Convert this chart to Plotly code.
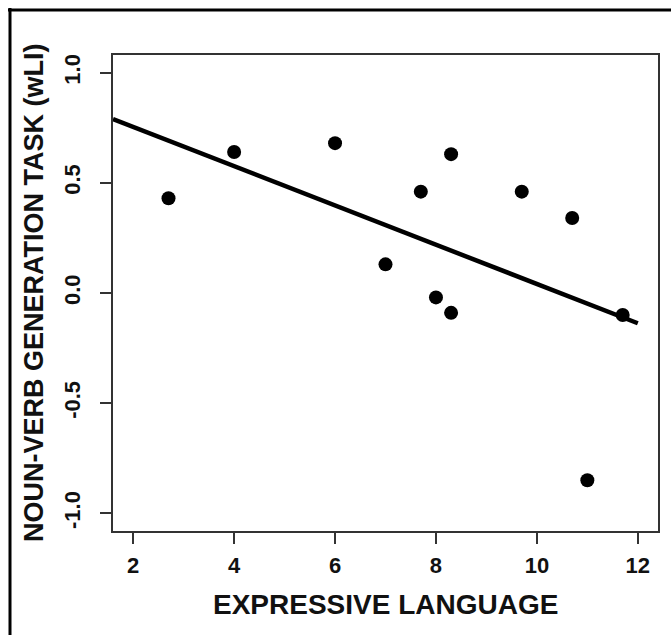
import numpy as np
import plotly.graph_objects as go

# Data
expressive_language = [2.7, 4.0, 6.0, 7.0, 7.7, 8.0, 8.3, 8.3, 9.7, 10.7, 11.0, 11.7]
noun_verb_wli = [0.43, 0.64, 0.68, 0.13, 0.46, -0.02, 0.63, -0.09, 0.46, 0.34, -0.85, -0.10]
fit_x_span = [1.6, 12.0]
x_ticks = [2, 4, 6, 8, 10, 12]
y_ticks = [-1.0, -0.5, 0.0, 0.5, 1.0]
y_tick_text = ["-1.0", "-0.5", "0.0", "0.5", "1.0"]

slope, intercept = np.polyfit(expressive_language, noun_verb_wli, 1)
fit_y = [slope * v + intercept for v in fit_x_span]

W, H = 671, 635
L, R, T, B = 113, 658, 55, 531
pw, ph = R - L, B - T

def px(xp):
    return (xp - L) / pw

def py(yp):
    return (B - yp) / ph

FONT = "Liberation Sans"

fig = go.Figure()
fig.add_trace(go.Scatter(x=fit_x_span, y=fit_y, mode="lines",
                         line=dict(color="black", width=4.5), hoverinfo="skip"))
fig.add_trace(go.Scatter(x=expressive_language, y=noun_verb_wli, mode="markers",
                         marker=dict(color="black", size=14, line=dict(width=0))))

axis_common = dict(showgrid=False, zeroline=False, showline=True, mirror=True,
                   linecolor="#333333", linewidth=1.5, ticks="outside", ticklen=11,
                   tickwidth=1.5, tickcolor="#333333")

fig.update_xaxes(range=[1.6, 12.4], tickmode="array", tickvals=x_ticks,
                 ticktext=[str(v) for v in x_ticks], ticklabelstandoff=3,
                 tickfont=dict(family=FONT, size=22, color="#111111", weight="bold"),
                 **axis_common)
fig.update_yaxes(range=[-1.08, 1.08], tickmode="array", tickvals=y_ticks,
                 ticktext=y_tick_text, tickangle=-90, ticklabelstandoff=11,
                 tickfont=dict(family=FONT, size=22, color="#111111", weight="bold"),
                 **axis_common)

fig.add_annotation(text="EXPRESSIVE LANGUAGE", xref="paper", yref="paper",
                   x=0.5, y=0, xanchor="center", yanchor="middle", yshift=-(604 - B),
                   showarrow=False, font=dict(family=FONT, size=28, color="#111111", weight="bold"))
fig.add_annotation(text="NOUN-VERB GENERATION TASK (wLI)", xref="paper", yref="paper",
                   x=0, y=0.5, xanchor="center", yanchor="middle", xshift=-(L - 34),
                   textangle=-90, showarrow=False,
                   font=dict(family=FONT, size=27, color="#111111", weight="bold"))

# outer frame (top and left edges)
fig.add_shape(type="line", xref="paper", yref="paper", x0=px(8), x1=px(672), y0=py(10), y1=py(10),
              line=dict(color="black", width=3))
fig.add_shape(type="line", xref="paper", yref="paper", x0=px(10), x1=px(10), y0=py(8), y1=py(640),
              line=dict(color="black", width=3))

fig.update_layout(width=W, height=H, showlegend=False,
                  margin=dict(l=L, r=W - R, t=T, b=H - B),
                  paper_bgcolor="white", plot_bgcolor="white")

fig.write_html("out.html", config={"displayModeBar": False},
               post_script="document.body.style.margin='0';document.body.style.overflow='hidden';")
